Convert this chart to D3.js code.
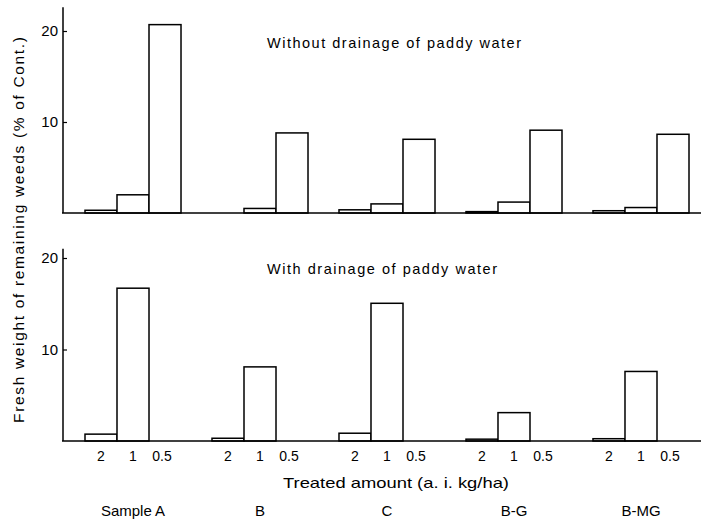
<!DOCTYPE html>
<html>
<head>
<meta charset="utf-8">
<script src="https://cdn.jsdelivr.net/npm/d3@7"></script>
<style>
  body { margin: 0; background: #fff; }
  svg { display: block; font-family: "Liberation Sans", Arial, sans-serif; }
</style>
</head>
<body>
<div id="chart"></div>
<script>
// data (% of control)
const samples = ["Sample A", "B", "C", "B-G", "B-MG"];
const doses = ["2", "1", "0.5"];
const withoutDrainage = [
  [0.3, 2.0, 20.7],
  [0, 0.5, 8.8],
  [0.35, 1.0, 8.1],
  [0.15, 1.2, 9.1],
  [0.25, 0.6, 8.65]
];
const withDrainage = [
  [0.75, 16.7, 0],
  [0.3, 8.1, 0],
  [0.85, 15.05, 0],
  [0.2, 3.1, 0],
  [0.25, 7.6, 0]
];
const yTicks = [10, 20];

const width = 705, height = 522;
const svg = d3.select("#chart").append("svg")
  .attr("width", width)
  .attr("height", height);

const x0 = d3.scaleBand().domain(samples).range([85, 689]).paddingInner(0.244).paddingOuter(0);
const x1 = d3.scaleBand().domain(doses).range([0, x0.bandwidth()]).padding(0);

function drawPanel(data, y, axisTop, title, titleY, titleLen) {
  let g = svg.append("g");

  // axis line
  g.append("line")
    .attr("x1", 63).attr("x2", 63)
    .attr("y1", y(axisTop)).attr("y2", y(0))
    .attr("stroke", "#000").attr("stroke-width", 1.5);

  let ax = g.append("g")
    .attr("transform", "translate(63,0)")
    .call(d3.axisLeft(y).tickValues(yTicks).tickSizeInner(-4).tickSizeOuter(0).tickPadding(5));
  ax.select(".domain").remove();
  ax.selectAll("line").attr("stroke", "#000").attr("stroke-width", 1.2);
  ax.selectAll("text").attr("font-size", 15).attr("fill", "#000")
    .attr("font-family", "Liberation Sans, Arial, sans-serif");

  let rows = [];
  data.forEach((vals, i) => {
    vals.forEach((v, j) => rows.push({ sample: samples[i], dose: doses[j], value: v }));
  });

  g.selectAll("rect.bar")
    .data(rows.filter(d => d.value > 0))
    .join("rect")
    .attr("class", "bar")
    .attr("x", d => x0(d.sample) + x1(d.dose))
    .attr("y", d => y(d.value))
    .attr("width", x1.bandwidth())
    .attr("height", d => y(0) - y(d.value))
    .attr("fill", "#fff")
    .attr("stroke", "#000")
    .attr("stroke-width", 1.5);

  // baseline
  g.append("line")
    .attr("x1", 62).attr("x2", 701)
    .attr("y1", y(0)).attr("y2", y(0))
    .attr("stroke", "#000").attr("stroke-width", 1.6);

  g.append("text")
    .attr("x", 267).attr("y", titleY)
    .attr("font-size", 14.5)
    .attr("textLength", titleLen)
    .attr("lengthAdjust", "spacing")
    .text(title);
}

const yTop = d3.scaleLinear().domain([0, 20]).range([213, 31]);
const yBottom = d3.scaleLinear().domain([0, 20]).range([441, 258]);

drawPanel(withoutDrainage, yTop, 22.6, "Without drainage of paddy water", 48, 254);
drawPanel(withDrainage, yBottom, 21, "With drainage of paddy water", 274, 230);

// dose labels under the bottom panel
let doseLabels = [];
samples.forEach(s => doses.forEach(d => doseLabels.push({ sample: s, dose: d })));
svg.append("g").selectAll("text")
  .data(doseLabels)
  .join("text")
  .attr("x", d => x0(d.sample) + x1(d.dose) + x1.bandwidth() / 2 + (d.dose === "0.5" ? -3 : 0))
  .attr("y", 461)
  .attr("text-anchor", "middle")
  .attr("font-size", 14)
  .text(d => d.dose);

svg.append("text")
  .attr("x", 396).attr("y", 488)
  .attr("text-anchor", "middle")
  .attr("font-size", 15)
  .attr("textLength", 226)
  .attr("lengthAdjust", "spacingAndGlyphs")
  .text("Treated amount (a. i. kg/ha)");

svg.append("g").selectAll("text")
  .data(samples)
  .join("text")
  .attr("x", d => x0(d) + x0.bandwidth() / 2)
  .attr("y", 516)
  .attr("text-anchor", "middle")
  .attr("font-size", 15)
  .text(d => d);

svg.append("text")
  .attr("transform", "translate(24,230) rotate(-90)")
  .attr("text-anchor", "middle")
  .attr("font-size", 15.5)
  .attr("textLength", 386)
  .attr("lengthAdjust", "spacing")
  .text("Fresh weight of remaining weeds (% of Cont.)");
</script>
</body>
</html>
